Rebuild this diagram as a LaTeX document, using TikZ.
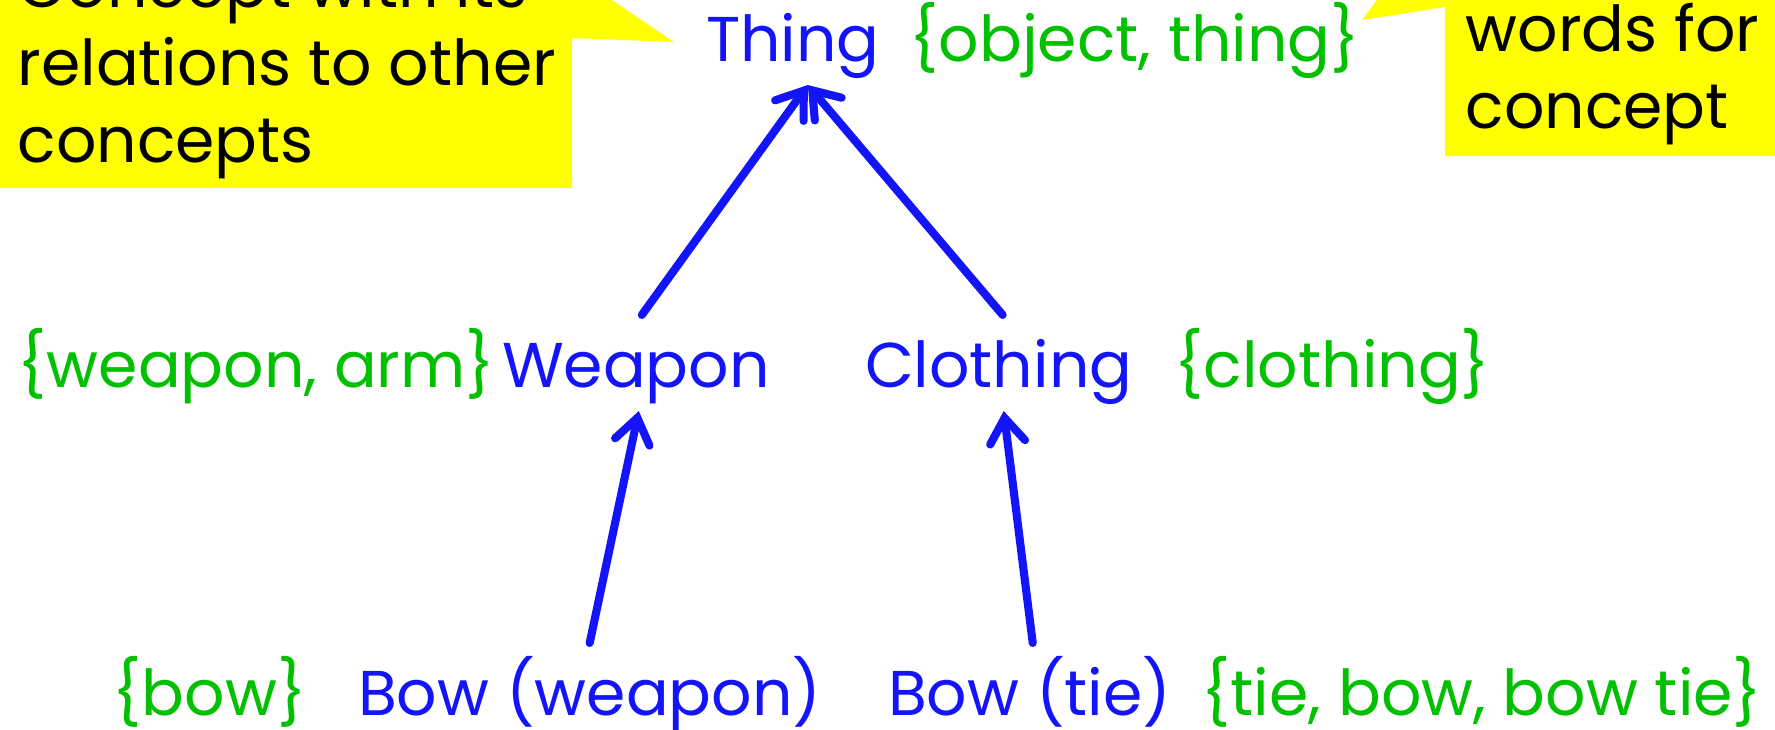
\documentclass[tikz,border=0pt]{standalone}
\usepackage{fontspec}
\setmainfont{Poppins}
\usetikzlibrary{arrows.meta}
\definecolor{conceptblue}{RGB}{20,20,250}
\definecolor{wordgreen}{RGB}{0,192,0}
\definecolor{noteyellow}{RGB}{255,255,0}
\begin{document}
\begin{tikzpicture}[x=0.01cm,y=-0.01cm,
  concept/.style={text=conceptblue,font=\fontsize{18}{22}\selectfont,inner sep=0,outer sep=0,
    text height=0.72cm,text depth=0.24cm,anchor=base west},
  syn/.style={text=wordgreen,font=\fontsize{18}{22}\selectfont,inner sep=0,anchor=base west},
  note/.style={align=left,font=\fontsize{18}{21.9}\selectfont,inner sep=0,anchor=base west},
  rel/.style={conceptblue,line width=2.3pt,line cap=round,
    -{Straight Barb[length=7pt,width=10pt,line cap=round]}}]
  \useasboundingbox (0,0) rectangle (1775,729);
  \clip (0,0) rectangle (1775,729);
  % callouts
  \fill[noteyellow] (-10,-40) -- (572,-40) -- (572,-27) -- (674,42) -- (572,38) -- (572,188) -- (-10,188) -- cycle;
  \node[note] (relnote) at (17,162) {Concept with its\\relations to other\\concepts};
  \fill[noteyellow] (1785,-100) -- (1445,-100) -- (1445,-91) -- (1362,20) -- (1445,7) -- (1445,156) -- (1785,156) -- cycle;
  \node[note] (wordnote) at (1465,128) {words for the\\concept};
  % concepts
  \node[concept] (thing) at (706,61) {Thing};
  \node[syn] (thingwords) at (909,61) {\{object, thing\}};
  \node[syn] (weaponwords) at (17,387) {\{weapon, arm\}};
  \node[concept] (weapon) at (502,387) {Weapon};
  \node[concept] (clothing) at (865,387) {Clothing};
  \node[syn] (clothingwords) at (1174,387) {\{clothing\}};
  \node[syn] (bowwords) at (112,715) {\{bow\}};
  \node[concept] (bowweapon) at (358,715) {Bow (weapon)};
  \node[concept] (bowtie) at (888,715) {Bow (tie)};
  \node[syn] (tiewords) at (1201,715) {\{tie, bow, bow tie\}};
  % relations
  \draw[rel] ([xshift=0.06cm]weapon.north) -- ([xshift=0.15cm]thing.south);
  \draw[rel] ([xshift=0.04cm]clothing.north) -- ([xshift=0.15cm]thing.south);
  \draw[rel] (bowweapon.north) -- ([xshift=0.03cm]weapon.south);
  \draw[rel] ([xshift=0.03cm]bowtie.north) -- ([xshift=0.05cm]clothing.south);
\end{tikzpicture}
\end{document}
